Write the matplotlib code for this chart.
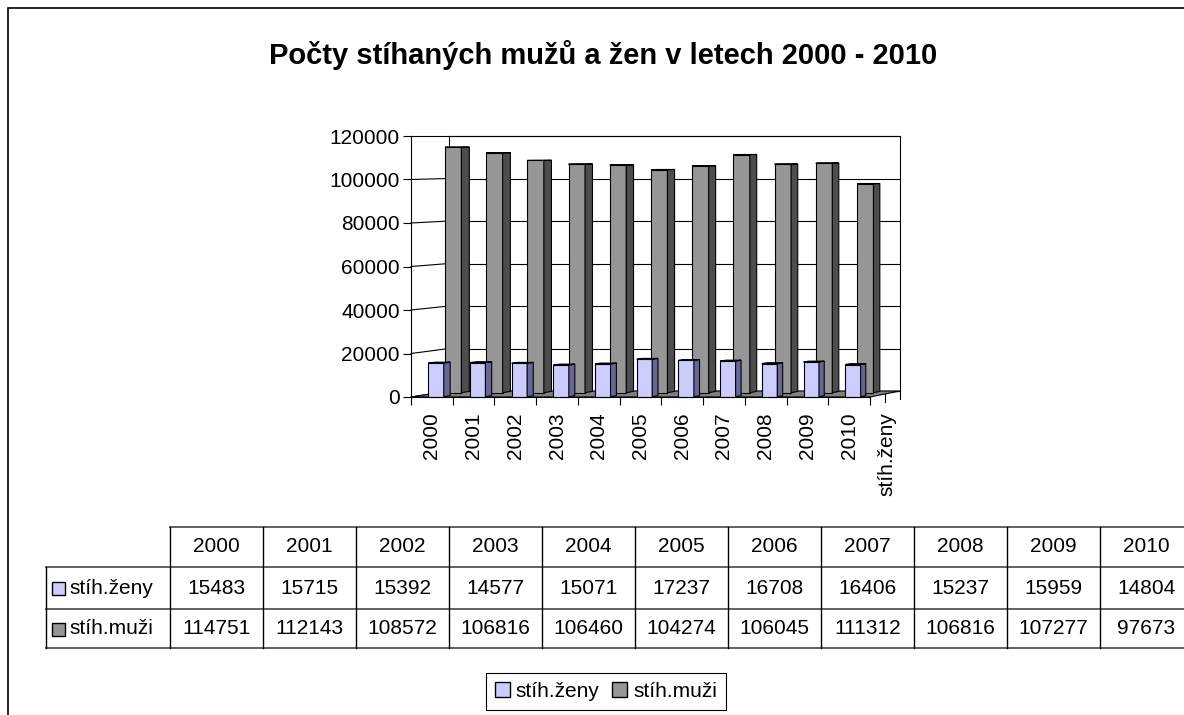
import numpy as np
import matplotlib
matplotlib.use("Agg")
import matplotlib.pyplot as plt
from matplotlib.patches import Polygon, Rectangle, Patch
from matplotlib.lines import Line2D

plt.rcParams['font.family'] = ['Liberation Sans', 'DejaVu Sans']

# data (from the data table of the chart)
years = [2000, 2001, 2002, 2003, 2004, 2005, 2006, 2007, 2008, 2009, 2010]
zeny = [15483, 15715, 15392, 14577, 15071, 17237, 16708, 16406, 15237, 15959, 14804]
muzi = [114751, 112143, 108572, 106816, 106460, 104274, 106045, 111312, 106816, 107277, 97673]
series_names = ["stíh.ženy", "stíh.muži"]
title = "Počty stíhaných mužů a žen v letech 2000 - 2010"

c_zeny = "#ccccff"
c_zeny_side = "#666699"
c_muzi = "#969696"
c_muzi_side = "#4d4d4d"
FS = 15

W, H = 1184, 715
fig = plt.figure(figsize=(W / 100, H / 100), dpi=100)


def P(x, y):
    # pixel position (from top-left) -> figure fraction
    return x / W, 1 - y / H


def ax_rect(left, right, bottom, top):
    return [left / W, 1 - bottom / H, (right - left) / W, (bottom - top) / H]


# front plane (y axis, floor front edge) and back plane (back wall)
ax_f = fig.add_axes(ax_rect(411, 870, 397, 136))
ax_b = fig.add_axes(ax_rect(449, 900, 391, 136))
for a in (ax_f, ax_b):
    a.set_xlim(-0.5, len(years) - 0.5)
    a.set_ylim(0, 120000)
    a.patch.set_visible(False)
ax_b.axis("off")

to_fig = fig.transFigure.inverted()


def proj(x, v, d):
    fx, fy = ax_f.transData.transform((x, v))
    bx, by = ax_b.transData.transform((x, v))
    return to_fig.transform(((1 - d) * fx + d * bx, (1 - d) * fy + d * by))


def poly(pts, fc, ec="black", lw=0.8, z=2):
    fig.add_artist(Polygon(pts, closed=True, facecolor=fc, edgecolor=ec,
                           linewidth=lw, transform=fig.transFigure, zorder=z))


def box(x0, x1, v, d0, d1, fc, side, top, z):
    poly([proj(x0, 0, d0), proj(x1, 0, d0), proj(x1, v, d0), proj(x0, v, d0)], fc, z=z)
    poly([proj(x1, 0, d0), proj(x1, 0, d1), proj(x1, v, d1), proj(x1, v, d0)], side, z=z)
    poly([proj(x0, v, d0), proj(x1, v, d0), proj(x1, v, d1), proj(x0, v, d1)], top, z=z)


xl, xr = -0.5, len(years) - 0.5
yticks = np.arange(0, 120001, 20000)

# back wall
poly([proj(xl, 0, 1), proj(xr, 0, 1), proj(xr, 120000, 1), proj(xl, 120000, 1)],
     "white", z=1)
for v in yticks:
    a, b = proj(xl, v, 1), proj(xr, v, 1)
    fig.add_artist(Line2D([a[0], b[0]], [a[1], b[1]], color="black", lw=0.8,
                          transform=fig.transFigure, zorder=1.1))
    a, b = proj(xl, v, 0), proj(xl, v, 1)
    fig.add_artist(Line2D([a[0], b[0]], [a[1], b[1]], color="black", lw=0.8,
                          transform=fig.transFigure, zorder=1.1))

# floor
poly([proj(xl, 0, 0), proj(xr, 0, 0), proj(xr, 0, 1), proj(xl, 0, 1)], "#808080", z=1.2)

# bars: men in the back row, women in the front row
for i, v in enumerate(muzi):
    box(i - 0.34, i + 0.06, v, 0.72, 0.93, c_muzi, c_muzi_side, "#a6a6a6", z=2 + i * 0.01)
for i, v in enumerate(zeny):
    box(i - 0.13, i + 0.24, v, 0.05, 0.22, c_zeny, c_zeny_side, "#d9d9ff", z=3 + i * 0.01)

# depth axis ticks and label on the right side of the floor
for d in (0.5, 1.0):
    p = proj(xr, 0, d)
    fig.add_artist(Line2D([p[0], p[0]], [p[1], p[1] - 8 / H], color="black", lw=0.8,
                          transform=fig.transFigure, zorder=4))
p = proj(xr, 0, 0.55)
fig.text(p[0], p[1] - 18 / H, series_names[0], rotation=90, ha="center", va="top",
         fontsize=FS)

# axes: y ticks and category labels on the front plane
ax_f.set_zorder(10)
for s in ("top", "right"):
    ax_f.spines[s].set_visible(False)
ax_f.spines["left"].set_linewidth(0.8)
ax_f.spines["bottom"].set_linewidth(0.8)
ax_f.set_yticks(yticks)
ax_f.set_yticklabels([str(v) for v in yticks])
ax_f.tick_params(axis="y", labelsize=FS, length=6, width=0.8, pad=2)
ax_f.set_xticks(np.arange(len(years) + 1) - 0.5)
ax_f.set_xticklabels([])
ax_f.set_xticks(np.arange(len(years)), minor=True)
ax_f.set_xticklabels([str(y) for y in years], minor=True, rotation=90, fontsize=FS)
ax_f.tick_params(axis="x", which="major", length=6, width=0.8)
ax_f.tick_params(axis="x", which="minor", length=0, pad=11)

# title and outer frame
fig.text(*P(603, 55), title, ha="center", va="center", fontsize=21, fontweight="bold")
fig.add_artist(Rectangle(P(8, H + 20), 2, (H + 12) / H, transform=fig.transFigure,
                         facecolor="none", edgecolor="black", lw=1.2, zorder=0.5))

# data table
rows_y = [527, 567, 609, 648]
col0, lab0, cw = 170, 46, 93
ncol = len(years)
hline = dict(color="#555555", lw=1.3, transform=fig.transFigure, zorder=5)
vline = dict(color="black", lw=1.0, transform=fig.transFigure, zorder=5)
fig.add_artist(Line2D([col0 / W, 1.01], [P(0, rows_y[0])[1]] * 2, **hline))
for y in rows_y[1:]:
    fig.add_artist(Line2D([lab0 / W, 1.01], [P(0, y)[1]] * 2, **hline))
fig.add_artist(Line2D([lab0 / W] * 2, [P(0, rows_y[1])[1], P(0, rows_y[3])[1]], **vline))
for k in range(ncol + 1):
    x = (col0 + k * cw) / W
    fig.add_artist(Line2D([x, x], [P(0, rows_y[0])[1], P(0, rows_y[3])[1]], **vline))

table_rows = [[str(y) for y in years], [str(v) for v in zeny], [str(v) for v in muzi]]
for r, vals in enumerate(table_rows):
    yc = (rows_y[r] + rows_y[r + 1]) / 2
    for k, t in enumerate(vals):
        fig.text(*P(col0 + (k + 0.5) * cw, yc), t, ha="center", va="center", fontsize=FS)
for r, (name, col) in enumerate(zip(series_names, [c_zeny, c_muzi])):
    yc = (rows_y[r + 1] + rows_y[r + 2]) / 2
    fig.add_artist(Rectangle(P(52, yc + 7), 13 / W, 13 / H, transform=fig.transFigure,
                             facecolor=col, edgecolor="black", lw=1.0, zorder=6))
    fig.text(*P(69, yc), name, ha="left", va="center", fontsize=FS)

# legend
handles = [Patch(facecolor=c_zeny, edgecolor="black"),
           Patch(facecolor=c_muzi, edgecolor="black")]
leg = fig.legend(handles, series_names, loc="center", bbox_to_anchor=P(606, 691.5),
                 ncol=2, fontsize=FS, frameon=True, fancybox=False, framealpha=1,
                 edgecolor="black", handlelength=0.7, handleheight=0.7,
                 handletextpad=0.3, columnspacing=0.6, borderpad=0.45)
leg.get_frame().set_linewidth(0.8)

fig.savefig("out.png", dpi=100)
